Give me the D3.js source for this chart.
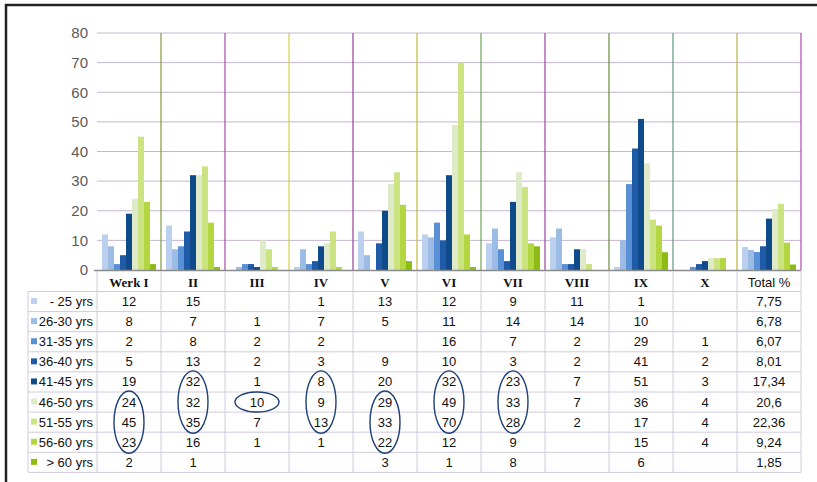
<!DOCTYPE html>
<html><head><meta charset="utf-8">
<script src="https://cdn.jsdelivr.net/npm/d3@7"></script>
<style>body{margin:0;background:#fff}svg{display:block}</style>
</head><body>
<script>
const categories = ["Werk I","II","III","IV","V","VI","VII","VIII","IX","X","Total %"];
const seriesNames = ["- 25 yrs","26-30 yrs","31-35 yrs","36-40 yrs","41-45 yrs","46-50 yrs","51-55 yrs","56-60 yrs","> 60 yrs"];
const s25   = [12,15,null,1,13,12,9,11,1,null,7.75];
const s2630 = [8,7,1,7,5,11,14,14,10,null,6.78];
const s3135 = [2,8,2,2,null,16,7,2,29,1,6.07];
const s3640 = [5,13,2,3,9,10,3,2,41,2,8.01];
const s4145 = [19,32,1,8,20,32,23,7,51,3,17.34];
const s4650 = [24,32,10,9,29,49,33,7,36,4,20.6];
const s5155 = [45,35,7,13,33,70,28,2,17,4,22.36];
const s5660 = [23,16,1,1,22,12,9,null,15,4,9.24];
const s60   = [2,1,null,null,3,1,8,null,6,null,1.85];
const seriesValues = [s25,s2630,s3135,s3640,s4145,s4650,s5155,s5660,s60];
const yTicks = [0,10,20,30,40,50,60,70,80];
// annotation ellipses: [category, first row, last row]
const circled = [["Werk I",5,7],["II",4,6],["III",5,5],["IV",4,6],["V",5,7],["VI",4,6],["VII",4,6]];

const colors = ["#bad0ee","#9cbce6","#5a90d6","#1f5aa6","#0f4a8a","#dfeac8","#cce382","#b2d740","#8dbd14"];
const sepColors = ["#9a9a9a","#7f9c3c","#a648a6","#d4cf48","#9a3c9a","#c2bc3c","#6ea454","#a040a0","#6a8a3a","#5c9c7c","#b4b444","#b244b4"];

const W = 817, H = 482;
const svg = d3.select("body").append("svg").attr("width", W).attr("height", H);

// frame (top and left)
svg.append("path").attr("d","M6,482 L6,5 L817,5").attr("fill","none").attr("stroke","#222").attr("stroke-width",2.5);

const x = d3.scaleBand().domain(categories).range([97, 801]).paddingInner(0).paddingOuter(0);
const xi = d3.scaleBand().domain(seriesNames).range([5, x.bandwidth()-5]).padding(0);
const y = d3.scaleLinear().domain([0,80]).range([270,33]);

// gridlines
svg.append("g").selectAll("line").data(yTicks.filter(d=>d>0)).join("line")
  .attr("x1",97).attr("x2",801).attr("y1",d=>y(d)).attr("y2",d=>y(d))
  .attr("stroke","#c4b6d0").attr("stroke-width",1);

// y axis labels
const yAxis = d3.axisLeft(y).tickValues(yTicks).tickSize(0).tickPadding(9);
const ya = svg.append("g").attr("transform","translate(97,0)").call(yAxis);
ya.select(".domain").remove();
ya.selectAll("text").attr("font-family","Liberation Sans, Arial, sans-serif").attr("font-size",15).attr("fill","#5a5a5a");

// column separators
const bounds = categories.map(c=>x(c)).concat([x(categories[categories.length-1])+x.bandwidth()]);
svg.append("g").selectAll("line").data(bounds.slice(1)).join("line")
  .attr("x1",d=>d).attr("x2",d=>d).attr("y1",33).attr("y2",270)
  .attr("stroke",(d,i)=>sepColors[i+1]).attr("stroke-width",1.2);

// bars
const gBars = svg.append("g");
seriesValues.forEach((vals,si)=>{
  gBars.append("g").selectAll("rect")
    .data(vals.map((v,ci)=>({v,c:categories[ci]})).filter(d=>d.v!=null))
    .join("rect")
    .attr("x",d=>x(d.c)+xi(seriesNames[si]))
    .attr("width",xi.bandwidth())
    .attr("y",d=>y(d.v))
    .attr("height",d=>270-y(d.v))
    .attr("fill",colors[si]);
});

// baseline
svg.append("line").attr("x1",94).attr("x2",801).attr("y1",270.5).attr("y2",270.5).attr("stroke","#8a8a8a").attr("stroke-width",1.5);

// table
const rowTop = 291.5, rowH = 20.1;
const ry = d3.scaleBand().domain(seriesNames).range([rowTop, rowTop+rowH*seriesNames.length]);
const tg = svg.append("g");
const gridC = "#d2cadc";
// horizontal lines
tg.selectAll("line.h").data(d3.range(seriesNames.length+1)).join("line")
  .attr("x1",28).attr("x2",801)
  .attr("y1",i=>rowTop+i*rowH).attr("y2",i=>rowTop+i*rowH)
  .attr("stroke",gridC);
// vertical lines
tg.selectAll("line.v").data(bounds).join("line")
  .attr("x1",d=>d).attr("x2",d=>d).attr("y1",271).attr("y2",rowTop+rowH*seriesNames.length)
  .attr("stroke",gridC);
tg.append("line").attr("x1",28).attr("x2",28).attr("y1",rowTop).attr("y2",rowTop+rowH*seriesNames.length).attr("stroke",gridC);

// header
tg.selectAll("text.hd").data(categories).join("text")
  .attr("x",d=>x(d)+x.bandwidth()/2).attr("y",287)
  .attr("text-anchor","middle")
  .attr("font-family",d=>d==="Total %"?"Liberation Sans, Arial, sans-serif":"Liberation Serif, Times New Roman, serif")
  .attr("font-weight",d=>d==="Total %"?"normal":"bold")
  .attr("font-size",d=>d==="Total %"?13:13)
  .attr("fill","#111").text(d=>d);

// legend labels + swatches
seriesNames.forEach((s,si)=>{
  const cy = ry(s)+rowH/2;
  tg.append("rect").attr("x",31).attr("y",cy-3.5).attr("width",6).attr("height",6).attr("fill",colors[si]);
  tg.append("text").attr("x",93).attr("y",cy+4.5).attr("text-anchor","end")
    .attr("font-family","Liberation Sans, Arial, sans-serif").attr("font-size",13).attr("fill","#111").text(s);
});

// values
const fmt = v => String(v).replace(".", ",");
seriesValues.forEach((vals,si)=>{
  tg.append("g").selectAll("text")
    .data(vals.map((v,ci)=>({v,c:categories[ci]})).filter(d=>d.v!=null))
    .join("text")
    .attr("x",d=>x(d.c)+x.bandwidth()/2).attr("y",ry(seriesNames[si])+rowH/2+4.5)
    .attr("text-anchor","middle")
    .attr("font-family","Liberation Sans, Arial, sans-serif").attr("font-size",13).attr("fill","#111")
    .text(d=>fmt(d.v));
});

// annotation ellipses
svg.append("g").selectAll("ellipse").data(circled).join("ellipse")
  .attr("cx",d=>x(d[0])+x.bandwidth()/2)
  .attr("cy",d=>(ry(seriesNames[d[1]])+ry(seriesNames[d[2]])+rowH)/2)
  .attr("rx",d=>d[1]===d[2]?22:15)
  .attr("ry",d=>d[1]===d[2]?10:((d[2]-d[1]+1)*rowH)/2+1)
  .attr("fill","none").attr("stroke","#1e3f78").attr("stroke-width",1.4);
</script>
</body></html>
